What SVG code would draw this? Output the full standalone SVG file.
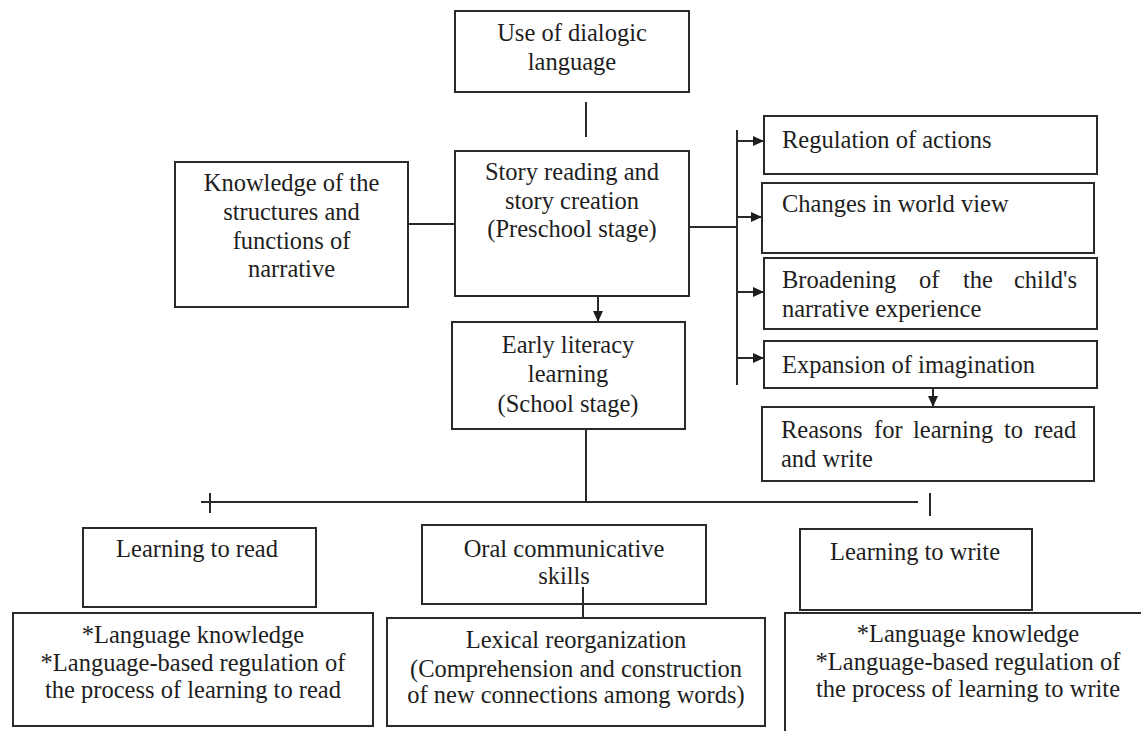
<svg xmlns="http://www.w3.org/2000/svg" width="1141" height="731" viewBox="0 0 1141 731">
<style>
  .box { fill: #ffffff; stroke: #2a2a2a; stroke-width: 2; }
  .t { font-family: 'Liberation Serif', 'Times New Roman', serif; font-size: 24.5px; fill: #1e1e1e; }
  .c { text-anchor: middle; }
  .ln { stroke: #2a2a2a; stroke-width: 2; fill: none; }
</style>
<defs>
  <marker id="ah" markerUnits="userSpaceOnUse" markerWidth="12" markerHeight="12" refX="11" refY="6" orient="auto">
    <path d="M0,1 L11,6 L0,11 Z" fill="#1e1e1e"/>
  </marker>
</defs>
<rect width="1141" height="731" fill="#ffffff"/>

<g id="connectors">
  <line class="ln" x1="586" y1="102" x2="586" y2="137"/>
  <line class="ln" x1="408" y1="224" x2="455" y2="224"/>
  <line class="ln" x1="689" y1="227" x2="737" y2="227"/>
  <line class="ln" x1="737" y1="130" x2="737" y2="385"/>
  <line class="ln" x1="737" y1="141" x2="764" y2="141" marker-end="url(#ah)"/>
  <line class="ln" x1="737" y1="217" x2="762" y2="217" marker-end="url(#ah)"/>
  <line class="ln" x1="737" y1="292" x2="764" y2="292" marker-end="url(#ah)"/>
  <line class="ln" x1="737" y1="358" x2="764" y2="358" marker-end="url(#ah)"/>
  <line class="ln" x1="598" y1="296" x2="598" y2="322" marker-end="url(#ah)"/>
  <line class="ln" x1="933" y1="388" x2="933" y2="407" marker-end="url(#ah)"/>
  <line class="ln" x1="586" y1="429" x2="586" y2="502"/>
  <line class="ln" x1="201" y1="502" x2="918" y2="502"/>
  <line class="ln" x1="210" y1="493" x2="210" y2="513"/>
  <line class="ln" x1="930" y1="493" x2="930" y2="516"/>
</g>

<g id="dialogic">
  <rect class="box" x="455" y="11" width="234" height="81"/>
  <text class="t c" x="572" y="41">Use of dialogic</text>
  <text class="t c" x="572" y="70">language</text>
</g>
<g id="story">
  <rect class="box" x="455" y="151" width="234" height="145"/>
  <text class="t c" x="572" y="180">Story reading and</text>
  <text class="t c" x="572" y="209">story creation</text>
  <text class="t c" x="572" y="237">(Preschool stage)</text>
</g>
<g id="knowledge">
  <rect class="box" x="175" y="162" width="233" height="145"/>
  <text class="t c" x="291.5" y="191">Knowledge of the</text>
  <text class="t c" x="291.5" y="220">structures and</text>
  <text class="t c" x="291.5" y="249">functions of</text>
  <text class="t c" x="291.5" y="277">narrative</text>
</g>
<g id="early">
  <rect class="box" x="452" y="322" width="233" height="107"/>
  <text class="t c" x="568" y="353">Early literacy</text>
  <text class="t c" x="568" y="382">learning</text>
  <text class="t c" x="568" y="412">(School stage)</text>
</g>
<g id="regulation">
  <rect class="box" x="764" y="116" width="333" height="58"/>
  <text class="t" x="782" y="148">Regulation of actions</text>
</g>
<g id="changes">
  <rect class="box" x="762" y="183" width="332" height="70"/>
  <text class="t" x="782" y="212">Changes in world view</text>
</g>
<g id="broadening">
  <rect class="box" x="764" y="258" width="333" height="71"/>
  <text class="t" y="288"><tspan x="782">Broadening</tspan><tspan x="919">of</tspan><tspan x="963">the</tspan><tspan x="1014">child's</tspan></text>
  <text class="t" x="782" y="317">narrative experience</text>
</g>
<g id="expansion">
  <rect class="box" x="764" y="341" width="333" height="47"/>
  <text class="t" x="782" y="373">Expansion of imagination</text>
</g>
<g id="reasons">
  <rect class="box" x="762" y="407" width="332" height="74"/>
  <text class="t" y="438"><tspan x="781">Reasons</tspan><tspan x="874">for</tspan><tspan x="913">learning</tspan><tspan x="1004">to</tspan><tspan x="1034">read</tspan></text>
  <text class="t" x="781" y="467">and write</text>
</g>
<g id="read">
  <rect class="box" x="83" y="528" width="233" height="79"/>
  <text class="t c" x="197" y="557">Learning to read</text>
</g>
<g id="oral">
  <rect class="box" x="422" y="525" width="284" height="79"/>
  <text class="t c" x="564" y="557">Oral communicative</text>
  <text class="t c" x="564" y="584">skills</text>
</g>
<g id="write">
  <rect class="box" x="800" y="529" width="232" height="81"/>
  <text class="t c" x="915" y="560">Learning to write</text>
</g>
<g id="read-detail">
  <rect class="box" x="13" y="613" width="360" height="113"/>
  <text class="t c" x="193" y="643">*Language knowledge</text>
  <text class="t c" x="193" y="671">*Language-based regulation of</text>
  <text class="t c" x="193" y="698">the process of learning to read</text>
</g>
<g id="lexical">
  <rect class="box" x="387" y="618" width="378" height="108"/>
  <text class="t c" x="576" y="648">Lexical reorganization</text>
  <text class="t c" x="576" y="677">(Comprehension and construction</text>
  <text class="t c" x="576" y="703">of new connections among words)</text>
</g>
<g id="write-detail">
  <rect class="box" x="785" y="613" width="370" height="140"/>
  <text class="t c" x="968" y="642">*Language knowledge</text>
  <text class="t c" x="968" y="670">*Language-based regulation of</text>
  <text class="t c" x="968" y="697">the process of learning to write</text>
</g>
<g id="connector-oral-lexical">
  <line class="ln" x1="583" y1="587" x2="583" y2="618"/>
</g>
</svg>
